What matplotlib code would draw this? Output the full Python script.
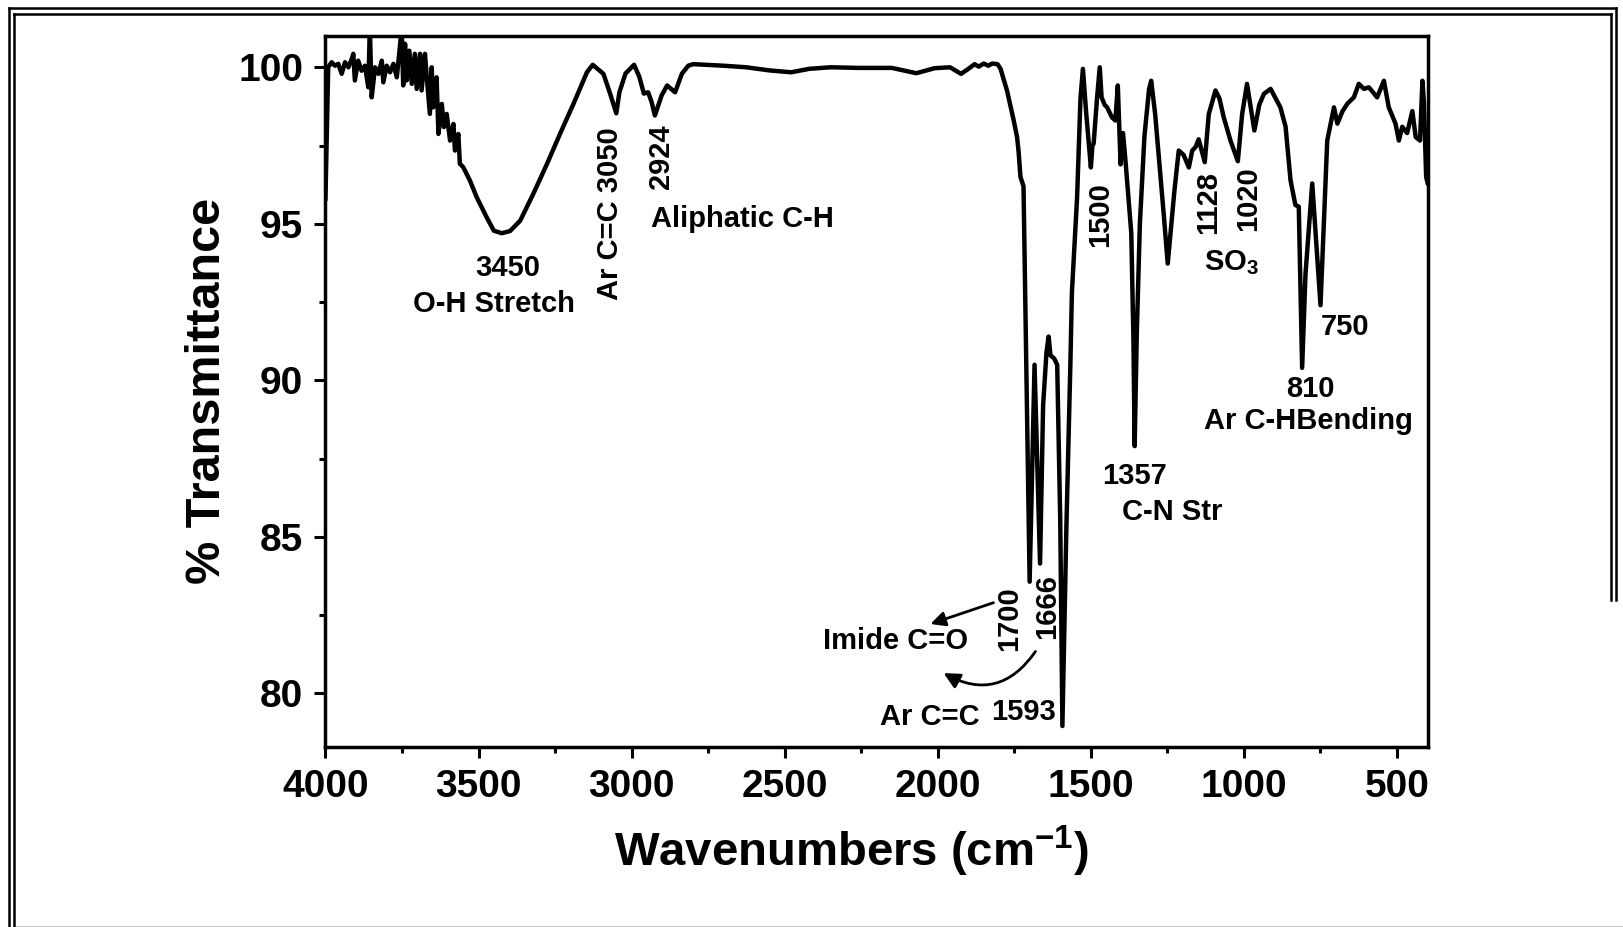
import matplotlib
matplotlib.use("Agg")
import matplotlib.pyplot as plt
from matplotlib.lines import Line2D
from matplotlib.ticker import MultipleLocator

plt.rcParams['font.family'] = ['Liberation Sans', 'DejaVu Sans']
plt.rcParams['font.weight'] = 'bold'
plt.rcParams['mathtext.fontset'] = 'custom'
plt.rcParams['mathtext.bf'] = 'Liberation Sans:bold'
plt.rcParams['mathtext.rm'] = 'Liberation Sans:bold'
plt.rcParams['mathtext.default'] = 'bf'

# FTIR spectrum (wavenumber in cm-1, % transmittance)
wavenumber = [
    4000, 3991, 3980, 3969, 3958, 3947, 3936, 3925, 3914, 3909, 3904, 3893,
    3882, 3871, 3860, 3855, 3849, 3838, 3827, 3816, 3811, 3800, 3789, 3778,
    3767, 3757, 3751, 3746, 3740, 3735, 3726, 3718, 3708, 3702, 3691, 3686,
    3675, 3669, 3659, 3653, 3648, 3637, 3631, 3620, 3613, 3604, 3593, 3582,
    3577, 3566, 3561, 3550, 3528, 3506, 3473, 3450, 3424, 3397, 3364, 3321,
    3277, 3234, 3190, 3146, 3127, 3092, 3070, 3050, 3040, 3020, 2992, 2975,
    2960, 2946, 2935, 2924, 2902, 2884, 2870, 2858, 2836, 2815, 2799, 2700,
    2626, 2550, 2479, 2420, 2350, 2260, 2150, 2070, 2011, 1960, 1924, 1900,
    1880, 1866, 1850, 1835, 1822, 1805, 1795, 1774, 1752, 1741, 1736, 1730,
    1720, 1700, 1684, 1666, 1656, 1645, 1638, 1632, 1620, 1610, 1600, 1593,
    1580, 1567, 1562, 1551, 1545, 1534, 1526, 1515, 1500, 1495, 1491, 1480,
    1471, 1465, 1455, 1447, 1431, 1420, 1412, 1403, 1395, 1386, 1368, 1361,
    1357, 1350, 1340, 1325, 1310, 1303, 1290, 1278, 1262, 1249, 1238, 1227,
    1213, 1197, 1180, 1169, 1158, 1148, 1128, 1115, 1093, 1080, 1066, 1044,
    1020, 1006, 990, 966, 950, 935, 913, 881, 864, 848, 832, 821,
    810, 799, 777, 750, 728, 706, 695, 678, 662, 641, 625, 608,
    592, 565, 543, 527, 505, 494, 483, 467, 450, 439, 425, 417,
    412, 405, 400,
]
transmittance = [
    95.8, 100.0, 100.16, 100.05, 100.11, 99.79, 100.16, 100.0, 100.27, 100.43, 99.58, 100.21,
    99.89, 100.05, 99.36, 101.3, 99.04, 100.0, 99.79, 100.21, 99.52, 100.05, 99.84, 100.11,
    99.68, 100.64, 101.3, 99.42, 100.75, 99.58, 100.53, 99.47, 100.43, 99.31, 100.43, 99.26,
    100.43, 99.68, 98.51, 100.0, 98.72, 99.68, 97.87, 98.83, 98.09, 98.51, 97.66, 98.19,
    97.34, 97.87, 96.92, 96.81, 96.38, 95.85, 95.2, 94.78, 94.7, 94.77, 95.1, 95.96,
    96.9, 97.87, 98.83, 99.84, 100.08, 99.79, 99.15, 98.53, 99.2, 99.8, 100.08, 99.7,
    99.16, 99.2, 98.9, 98.46, 99.1, 99.42, 99.3, 99.2, 99.79, 100.05, 100.1, 100.05,
    100.0, 99.9, 99.84, 99.95, 100.0, 99.98, 99.98, 99.81, 99.97, 100.0, 99.79, 99.95,
    100.1, 100.02, 100.12, 100.05, 100.12, 100.1, 99.95, 99.26, 98.3, 97.77, 97.3, 96.5,
    96.2, 83.57, 90.5, 84.15, 89.2, 90.9, 91.4, 90.8, 90.7, 90.5, 85.5, 78.96,
    85.3, 90.5, 92.8, 94.8, 95.85, 99.0, 99.95, 98.5, 96.8, 97.5, 97.56, 99.0,
    100.0, 99.04, 98.8, 98.72, 98.4, 98.3, 99.42, 96.9, 97.9, 96.9, 94.7, 91.3,
    87.9, 91.5, 95.0, 97.8, 99.3, 99.57, 98.5, 97.13, 95.3, 93.73, 94.9, 96.07,
    97.34, 97.2, 96.8, 97.34, 97.45, 97.7, 96.97, 98.5, 99.26, 99.0, 98.4, 97.66,
    97.0, 98.5, 99.47, 97.98, 98.8, 99.15, 99.31, 98.72, 98.1, 96.4, 95.6, 95.55,
    90.4, 93.4, 96.29, 92.4, 97.66, 98.72, 98.2, 98.6, 98.84, 99.04, 99.47, 99.31,
    99.36, 99.04, 99.57, 98.72, 98.2, 97.66, 98.1, 97.9, 98.6, 97.77, 97.66, 99.57,
    98.85, 96.5, 96.3,
]

# peak labels: (text, x, y, rotation)
peak_labels = [
    ("3450", 3405, 93.59, 0),
    ("O-H Stretch", 3449, 92.43, 0),
    ("Ar C=C 3050", 3070, 95.32, 90),
    ("2924", 2905, 97.16, 90),
    ("Aliphatic C-H", 2639, 95.14, 0),
    ("1500", 1469, 95.3, 90),
    ("1128", 1116, 95.68, 90),
    ("1020", 988, 95.8, 90),
    ("SO$_3$", 1040, 93.75, 0),
    ("750", 671, 91.7, 0),
    ("810", 783, 89.72, 0),
    ("Ar C-HBending", 791, 88.71, 0),
    ("1357", 1357, 86.93, 0),
    ("C-N Str", 1236, 85.8, 0),
    ("1700", 1766, 82.38, 90),
    ("1666", 1643, 82.77, 90),
    ("Imide C=O", 2139, 81.66, 0),
    ("Ar C=C", 2025, 79.26, 0),
    ("1593", 1720, 79.42, 0),
]

fig = plt.figure(figsize=(16.24, 9.27), dpi=100)
ax = fig.add_axes([0.2004, 0.1945, 0.6787, 0.7667])

ax.plot(wavenumber, transmittance, color='black', lw=3.2, solid_joinstyle='round')

ax.set_xlim(4000, 400)
ax.set_ylim(78.3, 101)
ax.xaxis.set_major_locator(MultipleLocator(500))
ax.xaxis.set_minor_locator(MultipleLocator(250))
ax.yaxis.set_major_locator(MultipleLocator(5))
ax.yaxis.set_minor_locator(MultipleLocator(2.5))
ax.tick_params(which='major', length=8, width=2.2, labelsize=28, pad=8)
ax.tick_params(which='minor', length=4, width=2.2)
for lab in ax.get_xticklabels() + ax.get_yticklabels():
    lab.set_fontweight('bold')
for sp in ax.spines.values():
    sp.set_linewidth(2.5)

ax.set_xlabel("Wavenumbers (cm$^{-1}$)", fontsize=34, fontweight='bold')
ax.xaxis.set_label_coords(0.477, -0.108)
ax.set_ylabel("% Transmittance", fontsize=35, fontweight='bold', labelpad=6)

for txt, x, y, rot in peak_labels:
    ax.text(x, y, txt, fontsize=21, fontweight='bold', rotation=rot,
            ha='center', va='center')

ax.annotate('', xy=(2024, 82.22), xytext=(1818, 82.9),
            arrowprops=dict(arrowstyle='-|>', color='black', lw=2,
                            mutation_scale=22, shrinkA=0, shrinkB=0))
ax.annotate('', xy=(1981, 80.65), xytext=(1681, 81.34),
            arrowprops=dict(arrowstyle='-|>', color='black', lw=2,
                            mutation_scale=24, shrinkA=0, shrinkB=0,
                            connectionstyle='arc3,rad=-0.45'))

# double page border
W, H = 1624, 927
def fline(x0, y0, x1, y1, **kw):
    fig.add_artist(Line2D([x0 / W, x1 / W], [1 - y0 / H, 1 - y1 / H],
                          transform=fig.transFigure, **kw))

fline(9.5, 8.3, 1616, 8.3, color='black', lw=1.8)
fline(14.5, 13.7, 1611, 13.7, color='black', lw=1.8)
fline(9.5, 8.3, 9.5, 927, color='black', lw=1.8)
fline(14.5, 13.7, 14.5, 927, color='black', lw=1.8)
fline(1616, 8.3, 1616, 600, color='black', lw=1.8)
fline(1611, 13.7, 1611, 600, color='black', lw=1.8)
fline(16, 926, 1624, 926, color='#c8c8c8', lw=0.8)

fig.savefig("out.png", dpi=100)
